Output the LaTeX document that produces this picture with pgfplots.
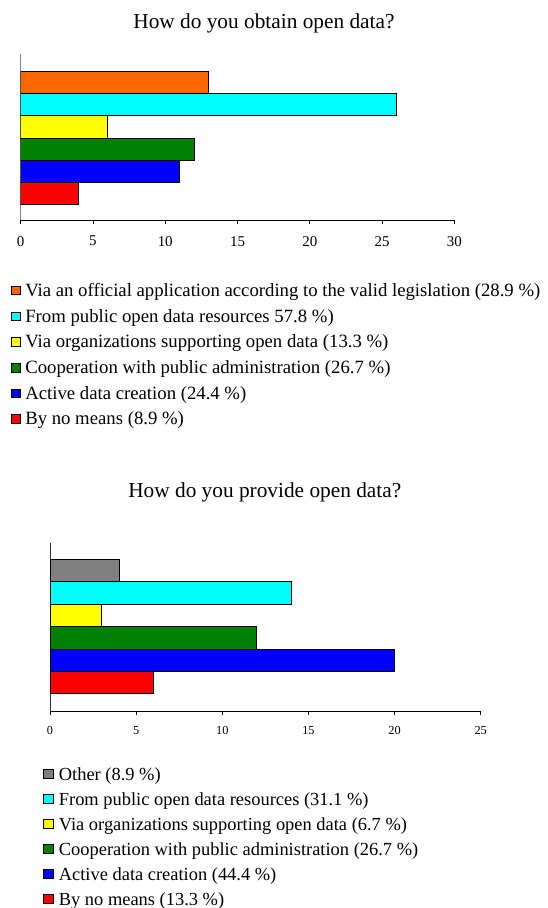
\documentclass[border=0pt]{standalone}
\usepackage{pgfplots}
\pgfplotsset{compat=1.18}
\usepackage{fontspec}
\setmainfont{Liberation Serif}
\definecolor{cOrange}{HTML}{FF6600}
\definecolor{cCyan}{HTML}{00FFFF}
\definecolor{cYellow}{HTML}{FFFF00}
\definecolor{cGreen}{HTML}{008000}
\definecolor{cBlue}{HTML}{0000FF}
\definecolor{cRed}{HTML}{FF0000}
\definecolor{cGray}{HTML}{808080}
\pgfplotsset{
  sqA/.style={legend image code/.code={\draw[##1,draw=black,line width=0.6bp] (0bp,-2.6bp) rectangle (8.5bp,5.9bp);}},
  sqB/.style={legend image code/.code={\draw[##1,draw=black,line width=0.6bp] (0bp,-2.8bp) rectangle (9.2bp,6.4bp);}},
  hb/.style={xbar, bar width=1, bar shift=0pt, draw=black, line width=0.8bp},
}
\begin{document}
\begin{tikzpicture}
\useasboundingbox (0,0) rectangle (548bp,908bp);
% ---------- top chart ----------
\begin{axis}[
  at={(20.7bp,688bp)}, anchor=south west,
  scale only axis, width=433.6bp, height=166bp,
  xmin=0, xmax=30, ymin=-0.21, ymax=7.3,
  axis lines*=left,
  y axis line style={gray, line width=0.8bp},
  x axis line style={black, line width=0.8bp},
  ytick=\empty,
  xtick={0,5,...,30},
  tick align=outside,
  major tick length=4bp,
  xtick style={black, line width=0.8bp},
  /pgf/number format/assume math mode=true,
  xticklabel style={font=\fontsize{15}{15}\selectfont, inner sep=0pt, anchor=north, yshift=-12bp},
  title={How do you obtain open data?},
  title style={at={(axis description cs:0.561,1.118)}, anchor=base, inner sep=0pt, font=\fontsize{21.4}{21.4}\selectfont},
  legend style={at={(axis description cs:-0.0224,-0.3837)}, anchor=north west, draw=none, fill=none, inner sep=0pt,
    font=\fontsize{18.8}{18.8}\selectfont, row sep=9.2bp, column sep=5bp,
    nodes={inner sep=0pt, text height=12.5bp, text depth=4bp}},
  legend cell align=left,
]
\addplot[hb, fill=cOrange, sqA] coordinates {(13,6)};
\addlegendentry{Via an official application according to the valid legislation (28.9 \%)}
\addplot[hb, fill=cCyan, sqA] coordinates {(26,5)};
\addlegendentry{From public open data resources 57.8 \%)}
\addplot[hb, fill=cYellow, sqA] coordinates {(6,4)};
\addlegendentry{Via organizations supporting open data (13.3 \%)}
\addplot[hb, fill=cGreen, sqA] coordinates {(12,3)};
\addlegendentry{Cooperation with public administration (26.7 \%)}
\addplot[hb, fill=cBlue, sqA] coordinates {(11,2)};
\addlegendentry{Active data creation (24.4 \%)}
\addplot[hb, fill=cRed, sqA] coordinates {(4,1)};
\addlegendentry{By no means (8.9 \%)}
\end{axis}
% ---------- bottom chart ----------
\begin{axis}[
  at={(50bp,197bp)}, anchor=south west,
  scale only axis, width=430.7bp, height=168bp,
  xmin=0, xmax=25, ymin=-0.27, ymax=7.23,
  axis lines*=left,
  y axis line style={black!80, line width=0.8bp},
  x axis line style={black, line width=0.8bp},
  ytick=\empty,
  xtick={0,5,...,25},
  tick align=outside,
  major tick length=4bp,
  xtick style={black, line width=0.8bp},
  /pgf/number format/assume math mode=true,
  xticklabel style={font=\fontsize{12.3}{12.3}\selectfont, inner sep=0pt, anchor=north, yshift=-11bp},
  title={How do you provide open data?},
  title style={at={(axis description cs:0.4987,1.236)}, anchor=base, inner sep=0pt, font=\fontsize{21.4}{21.4}\selectfont},
  legend style={at={(axis description cs:-0.0156,-0.336)}, anchor=north west, draw=none, fill=none, inner sep=0pt,
    font=\fontsize{18.5}{18.5}\selectfont, row sep=8.5bp, column sep=5.6bp,
    nodes={inner sep=0pt, text height=12.5bp, text depth=4bp}},
  legend cell align=left,
]
\addplot[hb, fill=cGray, sqB] coordinates {(4,6)};
\addlegendentry{Other (8.9 \%)}
\addplot[hb, fill=cCyan, sqB] coordinates {(14,5)};
\addlegendentry{From public open data resources (31.1 \%)}
\addplot[hb, fill=cYellow, sqB] coordinates {(3,4)};
\addlegendentry{Via organizations supporting open data (6.7 \%)}
\addplot[hb, fill=cGreen, sqB] coordinates {(12,3)};
\addlegendentry{Cooperation with public administration (26.7 \%)}
\addplot[hb, fill=cBlue, sqB] coordinates {(20,2)};
\addlegendentry{Active data creation (44.4 \%)}
\addplot[hb, fill=cRed, sqB] coordinates {(6,1)};
\addlegendentry{By no means (13.3 \%)}
\end{axis}
\end{tikzpicture}
\end{document}
